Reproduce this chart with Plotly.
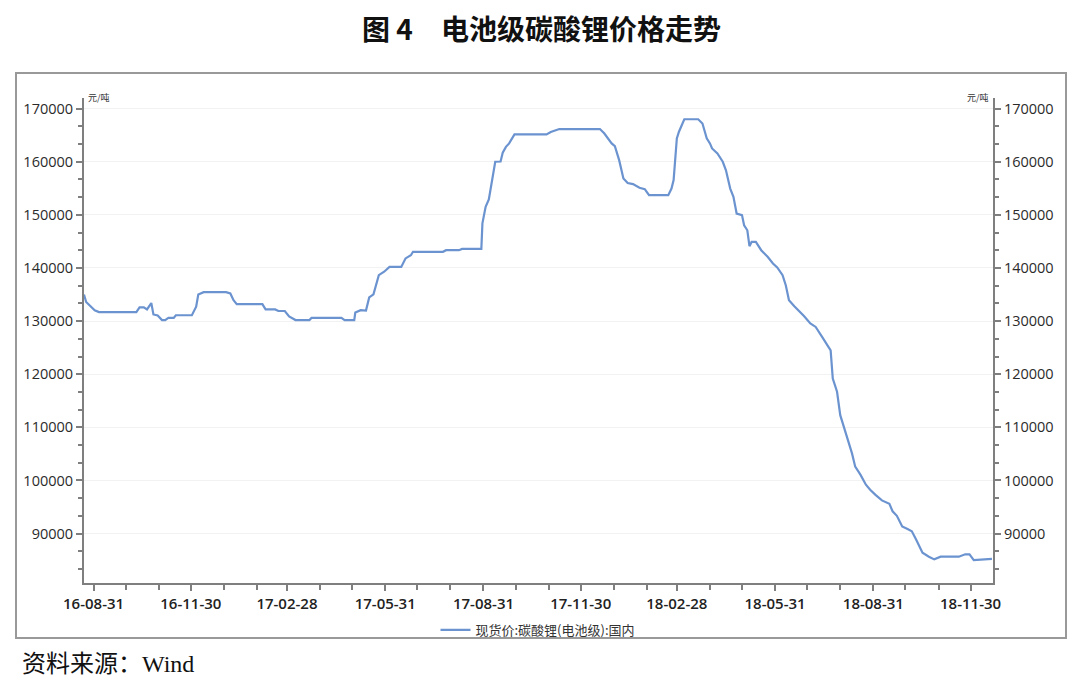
import plotly.graph_objects as go
import pandas as pd

# 电池级碳酸锂 现货价 (元/吨)
dates = [
    "2016-08-22", "2016-08-24", "2016-09-01", "2016-09-05", "2016-10-10", "2016-10-13",
    "2016-10-17", "2016-10-20", "2016-10-24", "2016-10-26", "2016-10-30", "2016-11-03",
    "2016-11-06", "2016-11-09", "2016-11-14", "2016-11-16", "2016-12-01", "2016-12-05",
    "2016-12-07", "2016-12-12", "2017-01-02", "2017-01-06", "2017-01-09", "2017-01-12",
    "2017-02-05", "2017-02-08", "2017-02-17", "2017-02-20", "2017-02-26", "2017-03-02",
    "2017-03-08", "2017-03-21", "2017-03-23", "2017-04-20", "2017-04-23", "2017-05-02",
    "2017-05-03", "2017-05-08", "2017-05-13", "2017-05-16", "2017-05-20", "2017-05-25",
    "2017-05-30", "2017-06-04", "2017-06-15", "2017-06-19", "2017-06-24", "2017-06-26",
    "2017-07-24", "2017-07-27", "2017-08-08", "2017-08-11", "2017-08-29", "2017-08-30",
    "2017-09-02", "2017-09-05", "2017-09-11", "2017-09-16", "2017-09-18", "2017-09-21",
    "2017-09-24", "2017-09-29", "2017-10-29", "2017-11-02", "2017-11-10", "2017-12-18",
    "2017-12-22", "2017-12-24", "2017-12-29", "2018-01-01", "2018-01-05", "2018-01-09",
    "2018-01-13", "2018-01-18", "2018-01-24", "2018-01-29", "2018-02-02", "2018-02-20",
    "2018-02-23", "2018-02-25", "2018-02-28", "2018-03-02", "2018-03-07", "2018-03-20",
    "2018-03-24", "2018-03-28", "2018-03-31", "2018-04-02", "2018-04-07", "2018-04-12",
    "2018-04-15", "2018-04-19", "2018-04-22", "2018-04-25", "2018-04-30", "2018-05-02",
    "2018-05-05", "2018-05-07", "2018-05-09", "2018-05-13", "2018-05-18", "2018-05-24",
    "2018-05-29", "2018-06-02", "2018-06-07", "2018-06-10", "2018-06-13", "2018-06-18",
    "2018-06-22", "2018-06-27", "2018-07-03", "2018-07-08", "2018-07-14", "2018-07-19",
    "2018-07-22", "2018-07-24", "2018-07-28", "2018-07-31", "2018-08-03", "2018-08-08",
    "2018-08-11", "2018-08-14", "2018-08-19", "2018-08-24", "2018-08-28", "2018-09-02",
    "2018-09-08", "2018-09-15", "2018-09-18", "2018-09-22", "2018-09-27", "2018-10-02",
    "2018-10-06", "2018-10-10", "2018-10-16", "2018-10-22", "2018-10-27", "2018-11-02",
    "2018-11-19", "2018-11-25", "2018-11-29", "2018-12-03", "2018-12-11", "2018-12-20",
]
prices = [
    135000, 133600, 132050, 131700, 131700, 132600,
    132600, 132200, 133400, 131250, 131050, 130200,
    130200, 130600, 130600, 131100, 131100, 132700,
    135000, 135450, 135450, 135200, 133950, 133200,
    133200, 132200, 132200, 131900, 131900, 130900,
    130200, 130200, 130600, 130600, 130200, 130200,
    131600, 132050, 132000, 134450, 135050, 138650,
    139300, 140200, 140200, 141800, 142400, 143050,
    143050, 143350, 143350, 143600, 143600, 148400,
    151500, 152900, 160000, 160050, 161700, 162800,
    163450, 165150, 165150, 165600, 166150, 166150,
    165350, 164800, 163450, 162950, 160300, 156850,
    156000, 155800, 155100, 154850, 153700, 153700,
    154950, 156550, 164400, 165650, 168000, 168000,
    167200, 164400, 163450, 162500, 161550, 160000,
    158400, 154950, 153400, 150250, 149950, 148050,
    147100, 144100, 144900, 144900, 143350, 142100,
    140850, 140100, 138650, 136750, 133950, 132800,
    132050, 130950, 129550, 128900, 127050, 125450,
    124500, 119200, 116700, 112300, 110450, 107000,
    105100, 102600, 101050, 99200, 98250, 97300,
    96250, 95600, 94200, 93350, 91350, 90850,
    90450, 88900, 86400, 85650, 85150, 85650,
    85650, 86100, 86100, 85000, 85150, 85250,
]

series_name = "现货价:碳酸锂(电池级):国内"
y_ticks = [90000, 100000, 110000, 120000, 130000, 140000, 150000, 160000, 170000]
x_ticks = ["2016-08-31", "2016-11-30", "2017-02-28", "2017-05-31", "2017-08-31",
           "2017-11-30", "2018-02-28", "2018-05-31", "2018-08-31", "2018-11-30"]
x_labels = ["16-08-31", "16-11-30", "17-02-28", "17-05-31", "17-08-31",
            "17-11-30", "18-02-28", "18-05-31", "18-08-31", "18-11-30"]

# month-end minor ticks
month_ends = pd.date_range("2016-08-31", "2018-11-30", freq="ME")

# the page puts the figure 8px in from the corner, so work in shifted pixels
OFF = 8
W, H = 1080 - OFF, 690 - OFF
L, R, T, B = 84 - OFF, 993 - OFF, 98 - OFF, 583 - OFF
PW, PH = R - L, B - T


def px(x):
    return (x - OFF - L) / PW


def py(y):
    return (B - (y - OFF)) / PH


axis_grey = "#7f7f7f"
line_blue = "#6b93cf"

fig = go.Figure()
fig.add_trace(go.Scatter(
    x=dates, y=prices, mode="lines", name=series_name,
    line=dict(color=line_blue, width=2.2),
))
# twin for the right-hand axis
fig.add_trace(go.Scatter(
    x=dates, y=prices, mode="lines", yaxis="y2", opacity=0,
    showlegend=False, hoverinfo="skip",
))

yfont = dict(family="Open Sans, Noto Sans CJK SC", size=14.5, color="#2b2b2b")
yaxis_common = dict(
    range=[80700, 172000],
    tickvals=y_ticks, tickformat="d",
    ticks="outside", ticklen=6, tickwidth=1.5, tickcolor=axis_grey,
    showline=True, linecolor=axis_grey, linewidth=2,
    tickfont=yfont,
    minor=dict(dtick=10000 / 3, tick0=0, ticks="outside", ticklen=4,
               tickcolor=axis_grey, tickwidth=1.5, showgrid=False),
    zeroline=False,
)

fig.update_layout(
    width=W, height=H,
    paper_bgcolor="white", plot_bgcolor="white",
    margin=dict(l=L, r=W - R, t=T, b=H - B),
    showlegend=True,
    legend=dict(orientation="h", x=px(538), xanchor="center", y=py(630), yanchor="middle",
                font=dict(family="Noto Sans CJK SC", size=13, color="#333333"),
                bgcolor="rgba(0,0,0,0)"),
    xaxis=dict(
        type="date",
        range=["2016-08-22", "2018-12-21"],
        tickvals=x_ticks, ticktext=x_labels,
        ticks="outside", ticklen=6, tickwidth=1.5, tickcolor=axis_grey,
        showline=True, linecolor=axis_grey, linewidth=2,
        showgrid=False, zeroline=False,
        tickfont=dict(family="Open Sans", size=15, color="#222222", weight=600),
        minor=dict(tickvals=month_ends, ticks="outside", ticklen=5,
                   tickcolor=axis_grey, tickwidth=1.5, showgrid=False),
    ),
    yaxis=dict(**yaxis_common, showgrid=True, gridcolor="#f2f2f2", gridwidth=1),
    yaxis2=dict(**yaxis_common, overlaying="y", side="right", showgrid=False),
    hovermode="x",
)

# outer frame around the chart
fig.add_shape(type="rect", xref="paper", yref="paper",
              x0=px(16), x1=px(1066), y0=py(638), y1=py(73),
              line=dict(color="#999999", width=2), layer="below")

fig.add_annotation(text="<b>图 4　电池级碳酸锂价格走势</b>", xref="paper", yref="paper",
                   x=px(541), y=py(28), showarrow=False,
                   xanchor="center", yanchor="middle",
                   font=dict(family="Noto Sans CJK SC", size=28, color="#111111"))
fig.add_annotation(text="元/吨", xref="paper", yref="paper",
                   x=px(86), y=py(97), showarrow=False,
                   xanchor="left", yanchor="middle",
                   font=dict(family="Noto Sans CJK SC", size=9, color="#333333"))
fig.add_annotation(text="元/吨", xref="paper", yref="paper",
                   x=px(991), y=py(97), showarrow=False,
                   xanchor="right", yanchor="middle",
                   font=dict(family="Noto Sans CJK SC", size=9, color="#333333"))
fig.add_annotation(text="资料来源：Wind", xref="paper", yref="paper",
                   x=px(20), y=py(664), showarrow=False,
                   xanchor="left", yanchor="middle",
                   font=dict(family="Liberation Serif, Noto Sans CJK SC", size=24, color="#111111"))

fig.write_html("out.html")
